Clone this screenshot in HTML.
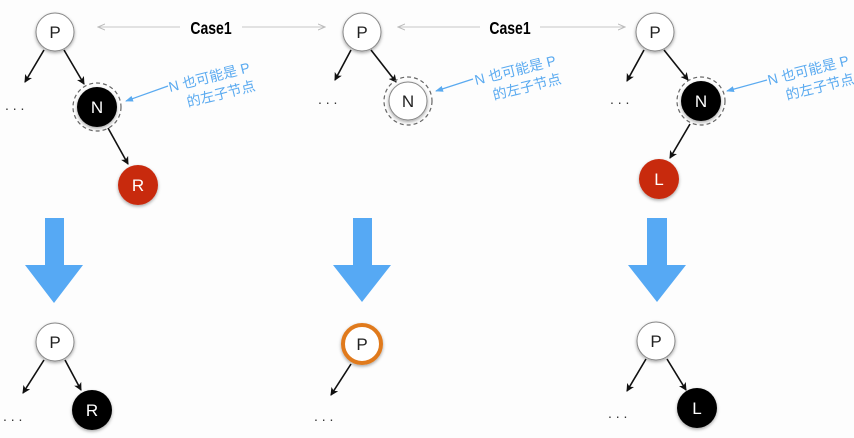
<!DOCTYPE html>
<html><head><meta charset="utf-8"><style>
html,body{margin:0;padding:0;background:#fdfdfd;}
svg{display:block;}
text{font-family:"Liberation Sans","Noto Sans CJK SC",sans-serif;}
</style></head><body>
<svg width="854" height="438" viewBox="0 0 854 438" xmlns="http://www.w3.org/2000/svg">
<defs>
<marker id="ak" markerWidth="8" markerHeight="8" refX="7" refY="4" orient="auto" markerUnits="userSpaceOnUse"><path d="M0,0 L8,4 L0,8 L2,4 Z" fill="#111"/></marker>
<marker id="ag" markerWidth="8" markerHeight="8" refX="7" refY="4" orient="auto" markerUnits="userSpaceOnUse"><path d="M0,1 L7,4 L0,7" fill="none" stroke="#bbb" stroke-width="1"/></marker>
<marker id="ab" markerWidth="8" markerHeight="8" refX="7" refY="4" orient="auto" markerUnits="userSpaceOnUse"><path d="M0,1 L8,4 L0,7 Z" fill="#5aaaf0"/></marker>
<filter id="sh" x="-30%" y="-30%" width="160%" height="160%"><feDropShadow dx="0" dy="1.5" stdDeviation="1.5" flood-opacity="0.35"/></filter>
</defs>

<g stroke="#c8c8c8" stroke-width="1" fill="none">
<line x1="180" y1="27" x2="98" y2="27" marker-end="url(#ag)"/>
<line x1="242" y1="27" x2="325" y2="27" marker-end="url(#ag)"/>
<line x1="480" y1="27" x2="398" y2="27" marker-end="url(#ag)"/>
<line x1="540" y1="27" x2="625" y2="27" marker-end="url(#ag)"/>
</g>
<g transform="translate(211,34) scale(0.78,1)"><text x="0" y="0" font-size="18" font-weight="bold" text-anchor="middle" fill="#000">Case1</text></g>
<g transform="translate(510,34) scale(0.78,1)"><text x="0" y="0" font-size="18" font-weight="bold" text-anchor="middle" fill="#000">Case1</text></g>

<g stroke="#111" stroke-width="1.6" marker-end="url(#ak)">
<line x1="44" y1="50" x2="25" y2="82"/>
<line x1="64" y1="50" x2="84" y2="84"/>
<line x1="108" y1="128" x2="128" y2="164"/>
<line x1="351" y1="50" x2="335" y2="80"/>
<line x1="371" y1="50" x2="396" y2="82"/>
<line x1="644" y1="50" x2="627" y2="81"/>
<line x1="664" y1="50" x2="688" y2="80"/>
<line x1="690" y1="124" x2="670" y2="158"/>
<line x1="44" y1="360" x2="23" y2="393"/>
<line x1="65" y1="360" x2="81" y2="390"/>
<line x1="351" y1="364" x2="331" y2="395"/>
<line x1="646" y1="359" x2="627" y2="391"/>
<line x1="667" y1="359" x2="686" y2="390"/>
</g>

<g font-size="14" fill="#333">
<text x="5" y="110">. . .</text>
<text x="318" y="104">. . .</text>
<text x="610" y="104">. . .</text>
<text x="3" y="421">. . .</text>
<text x="314" y="421">. . .</text>
<text x="608" y="418">. . .</text>
</g>

<g stroke="#5aaaf0" stroke-width="1.2">
<line x1="168" y1="86" x2="126" y2="101" marker-end="url(#ab)"/>
<line x1="473" y1="79" x2="436" y2="91" marker-end="url(#ab)"/>
<line x1="767" y1="80" x2="727" y2="91" marker-end="url(#ab)"/>
</g>
<g fill="#5aaaf0" font-size="14">
<g transform="translate(170,92) rotate(-14)"><text x="0" y="0">N 也可能是 P</text><text x="14" y="19">的左子节点</text></g>
<g transform="translate(476,85) rotate(-14)"><text x="0" y="0">N 也可能是 P</text><text x="14" y="19">的左子节点</text></g>
<g transform="translate(769,85) rotate(-14)"><text x="0" y="0">N 也可能是 P</text><text x="14" y="19">的左子节点</text></g>
</g>

<g fill="none" stroke="#666" stroke-width="1.2" stroke-dasharray="4,3">
<circle cx="97" cy="107" r="24"/>
<circle cx="408" cy="101" r="24"/>
<circle cx="701" cy="101" r="24"/>
</g>

<g filter="url(#sh)">
<circle cx="55" cy="32" r="19" fill="#fff" stroke="#888" stroke-width="1"/>
<circle cx="97" cy="107" r="20" fill="#000"/>
<circle cx="138" cy="185" r="20" fill="#c8290e"/>
<circle cx="362" cy="32" r="19" fill="#fff" stroke="#888" stroke-width="1"/>
<circle cx="408" cy="101" r="19" fill="#fff" stroke="#888" stroke-width="1"/>
<circle cx="655" cy="32" r="19" fill="#fff" stroke="#888" stroke-width="1"/>
<circle cx="701" cy="101" r="20" fill="#000"/>
<circle cx="659" cy="179" r="20" fill="#c8290e"/>
<circle cx="55" cy="342" r="19" fill="#fff" stroke="#888" stroke-width="1"/>
<circle cx="92" cy="410" r="20" fill="#000"/>
<circle cx="362" cy="344" r="19" fill="#fff" stroke="#e07a1e" stroke-width="4"/>
<circle cx="656" cy="341" r="19" fill="#fff" stroke="#888" stroke-width="1"/>
<circle cx="697" cy="408" r="20" fill="#000"/>
</g>
<g font-size="17" text-anchor="middle">
<text x="55" y="38" fill="#222">P</text>
<text x="97" y="113" fill="#fff">N</text>
<text x="138" y="191" fill="#fff">R</text>
<text x="362" y="38" fill="#222">P</text>
<text x="408" y="107" fill="#222">N</text>
<text x="655" y="38" fill="#222">P</text>
<text x="701" y="107" fill="#fff">N</text>
<text x="659" y="185" fill="#fff">L</text>
<text x="55" y="348" fill="#222">P</text>
<text x="92" y="416" fill="#fff">R</text>
<text x="362" y="350" fill="#222">P</text>
<text x="656" y="347" fill="#222">P</text>
<text x="697" y="414" fill="#fff">L</text>
</g>

<g fill="#56a9f4">
<path d="M45,218 H64 V265 H83 L54,303 L25,265 H45 Z"/>
<path d="M353,218 H372 V265 H391 L362,302 L333,265 H353 Z"/>
<path d="M647,218 H667 V265 H686 L657,302 L628,265 H647 Z"/>
</g>
</svg>
</body></html>
